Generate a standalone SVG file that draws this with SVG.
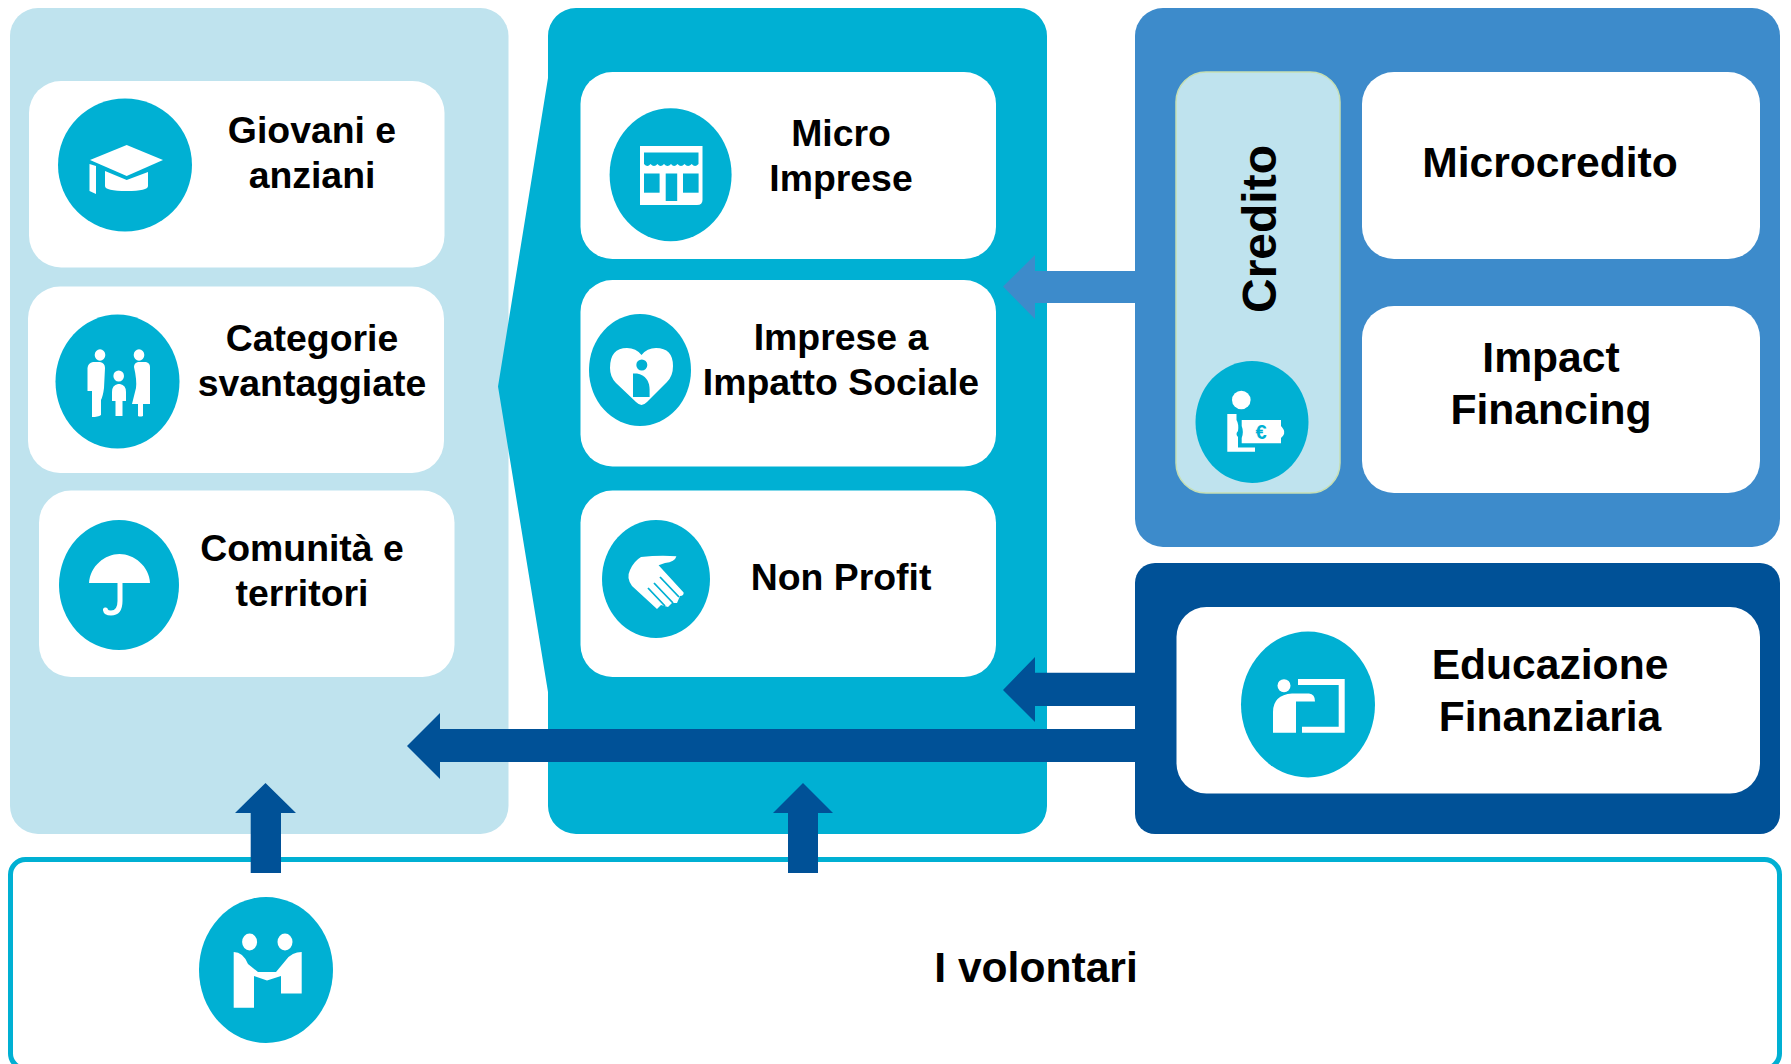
<svg xmlns="http://www.w3.org/2000/svg" width="1791" height="1064" viewBox="0 0 1791 1064">
<defs>
<style>
.t{font-family:"Liberation Sans",Arial,sans-serif;font-weight:700;fill:#000;text-anchor:middle}
.s{font-size:37.400px}
.l{font-size:42.600px}
.card{fill:#fff}
.disc{fill:#00B0D3}
.ic{fill:#fff}
.gap{fill:#00B0D3}
.up{fill:#005197}
</style>
</defs>
<rect width="1791" height="1064" fill="#fff"/>
<g id="panels">
<rect id="panel-target" x="10" y="8" width="498.500" height="826" rx="28" fill="#BFE3EE"/>
<path id="panel-intermediari" d="M576 8H1019a28 28 0 0 1 28 28V806a28 28 0 0 1-28 28H576a28 28 0 0 1-28-28V692L498 386.500L548 78V36a28 28 0 0 1 28-28Z" fill="#00B0D3"/>
<rect id="panel-credito" x="1135" y="8" width="645" height="539" rx="28" fill="#3D8BCB"/>
<rect id="panel-educazione" x="1135" y="563" width="645" height="271" rx="20" fill="#005197"/>
</g>
<g id="node-volontari">
<rect x="10.500" y="859.500" width="1769" height="209" rx="15" fill="#fff" stroke="#00B0D3" stroke-width="5"/>
<text class="t l" x="1036" y="982">I volontari</text>
<ellipse class="disc" cx="266" cy="970" rx="67" ry="73"/>
<ellipse class="ic" cx="249.600" cy="942" rx="7.500" ry="8.500"/>
<ellipse class="ic" cx="285" cy="942" rx="7.500" ry="8.500"/>
<path class="ic" d="M233.700 952Q243 952 248 964L258 972H276L286 960Q292 952 301.700 952V993.500H281V976L267 980.500L254 976V1007.700H233.700Z"/>
</g>
<g id="node-giovani">
<rect class="card" x="29" y="81" width="415.500" height="186.500" rx="32"/>
<ellipse class="disc" cx="125" cy="165" rx="67" ry="66.500"/>
<path class="ic" d="M126.700 145L163 160L126.700 176L90 160Z"/>
<path class="ic" d="M89.500 164L96 166V194L89.500 191Z"/>
<path class="ic" d="M105 171L126.700 180L148 172V186Q148 191 126.700 191Q105 191 105 186Z"/>
<text class="t s" x="312" y="143">Giovani e</text>
<text class="t s" x="312" y="187.800">anziani</text>
</g>
<g id="node-categorie">
<rect class="card" x="28" y="286.500" width="416" height="186.500" rx="32"/>
<ellipse class="disc" cx="117.500" cy="381.600" rx="62" ry="67"/>
<ellipse class="ic" cx="100" cy="355" rx="5.300" ry="5.800"/>
<ellipse class="ic" cx="139" cy="355" rx="5.300" ry="5.800"/>
<ellipse class="ic" cx="118.700" cy="376" rx="5.300" ry="5.500"/>
<path class="ic" d="M87.500 368Q88 363 93 362H100Q105 363 105 368L104 388Q103 396 101 400V415Q98 417 92 417V391H87.500Z"/>
<path class="ic" d="M112 392Q112 385 118 384H120Q126 385 126 392V401H122.500V416H115.500V401H112Z"/>
<path class="ic" d="M134 367Q134 363 138 362H146Q150 363 150 367V404H143V416Q140 417 138 416V404H132L136 388Q137 380 134 367Z"/>
<text class="t s" x="312" y="350.600">Categorie</text>
<text class="t s" x="312" y="395.500">svantaggiate</text>
</g>
<g id="node-comunita">
<rect class="card" x="39" y="490.600" width="415.500" height="186.400" rx="32"/>
<ellipse class="disc" cx="119" cy="585" rx="60" ry="65"/>
<path class="ic" d="M89 583C90 566 105 554 119.500 554C134 554 149 566 150 583Z"/>
<path d="M120 582V601Q120 613 111 613Q106 613 105.500 610" fill="none" stroke="#fff" stroke-width="5" stroke-linecap="round"/>
<text class="t s" x="302" y="560.700">Comunità e</text>
<text class="t s" x="302" y="605.700">territori</text>
</g>
<g id="node-micro">
<rect class="card" x="580.500" y="72" width="415.500" height="187" rx="32"/>
<ellipse class="disc" cx="670.600" cy="174.700" rx="61" ry="66.500"/>
<path class="ic" d="M640 146H702.500V200Q702.500 205 697 205H640Z"/>
<path class="gap" d="M644 152.500H698.500V164Q695 168 691.700 164Q688 168 684.500 164Q681 168 677.500 164Q674 168 671 164Q667.500 168 664 164Q660.500 168 657.500 164Q654 168 650.500 164Q647.500 168 644 164Z"/>
<rect class="gap" x="644" y="173.500" width="15.600" height="19.200"/>
<rect class="gap" x="665.700" y="173.500" width="11.500" height="27.500"/>
<rect class="gap" x="683" y="173.500" width="15.600" height="19.200"/>
<text class="t s" x="841" y="145.700">Micro</text>
<text class="t s" x="841" y="190.600">Imprese</text>
</g>
<g id="node-impatto">
<rect class="card" x="580.500" y="280" width="415.500" height="186.500" rx="32"/>
<ellipse class="disc" cx="640" cy="370" rx="51" ry="56"/>
<path class="ic" d="M641.500 405Q639 405 636 402L616 383Q610 377 610 368Q610 348 627 348Q636 348 641.500 355Q647 348 656 348Q673 348 673 366Q673 376 667 382L647 402Q644 405 641.500 405Z"/>
<circle class="gap" cx="641.800" cy="365" r="5.500"/>
<path class="gap" d="M633 373.500H637Q649.600 376 649.600 390V397H633Z"/>
<text class="t s" x="841" y="350">Imprese a</text>
<text class="t s" x="841" y="394.700">Impatto Sociale</text>
</g>
<g id="node-nonprofit">
<rect class="card" x="580.500" y="490.600" width="415.500" height="186.400" rx="32"/>
<ellipse class="disc" cx="656" cy="579" rx="54" ry="59"/>
<path class="ic" d="M641 557Q660 555 676.400 556.300Q675 562 665 563L658.600 565.300L683.600 592.600Q684 596 680 596L677 603L672 603L668 607L661 605L657 609L632 586Q626 578 630 570Q634 561 641 557Z"/>
<path d="M660 577L679 597M654 583L673 603M648 588L665 606" fill="none" stroke="#00B0D3" stroke-width="1.800"/>
<text class="t s" x="841" y="590.200">Non Profit</text>
</g>
<g id="node-credito">
<rect x="1176" y="72" width="164" height="421" rx="30" fill="#BFE3EE" stroke="#C6DFB4" stroke-width="1.500"/>
<text class="t" style="font-size:48px" transform="translate(1276 229) rotate(-90)">Credito</text>
<ellipse class="disc" cx="1252" cy="422" rx="56.500" ry="61"/>
<circle class="ic" cx="1241.300" cy="400" r="9.300"/>
<path class="ic" d="M1227.300 414H1236.500V420Q1239 424 1238 431Q1235 434 1238 437V447.500H1255V451.700H1227.300Z"/>
<path class="ic" d="M1241.700 420H1281V426Q1285 431 1284 432Q1285 434 1281 438V443.300H1241.700V438Q1244 432 1241.700 426Z"/>
<text x="1261" y="439" style="font-family:'Liberation Sans',Arial,sans-serif;font-weight:700;font-size:20px;text-anchor:middle" fill="#00B0D3">€</text>
</g>
<g id="node-microcredito">
<rect class="card" x="1362" y="72" width="398" height="187" rx="32"/>
<text class="t l" x="1550" y="177">Microcredito</text>
</g>
<g id="node-impact">
<rect class="card" x="1362" y="306" width="398" height="187" rx="32"/>
<text class="t l" x="1551" y="372">Impact</text>
<text class="t l" x="1551" y="424">Financing</text>
</g>
<g id="node-educazione">
<rect class="card" x="1176.500" y="607" width="583.500" height="186.500" rx="30"/>
<ellipse class="disc" cx="1308" cy="704.500" rx="67" ry="73"/>
<circle class="ic" cx="1284" cy="685.700" r="6.500"/>
<path class="ic" d="M1273 732.700V712Q1273 695 1292 693.500H1309Q1315 694 1315 701.500H1296V732.700Z"/>
<path d="M1298 682H1341.700V729.700H1302" fill="none" stroke="#fff" stroke-width="6"/>
<text class="t l" x="1550" y="679">Educazione</text>
<text class="t l" x="1550" y="731">Finanziaria</text>
</g>
<g id="connectors">
<path d="M1135 271V303H1035V319L1003 286.500L1035 255V271Z" fill="#3D8BCB"/>
<path class="up" d="M1135 672.700V706H1035V722L1003 690L1035 657V672.700Z"/>
<path class="up" d="M1135 729V762H440V779L407 746L440 713V729Z"/>
<path class="up" d="M250.700 873V813H235L265.500 783L296 813H281V873Z"/>
<path class="up" d="M788 873V813H773L803 783L833 813H818V873Z"/>
</g>
</svg>
